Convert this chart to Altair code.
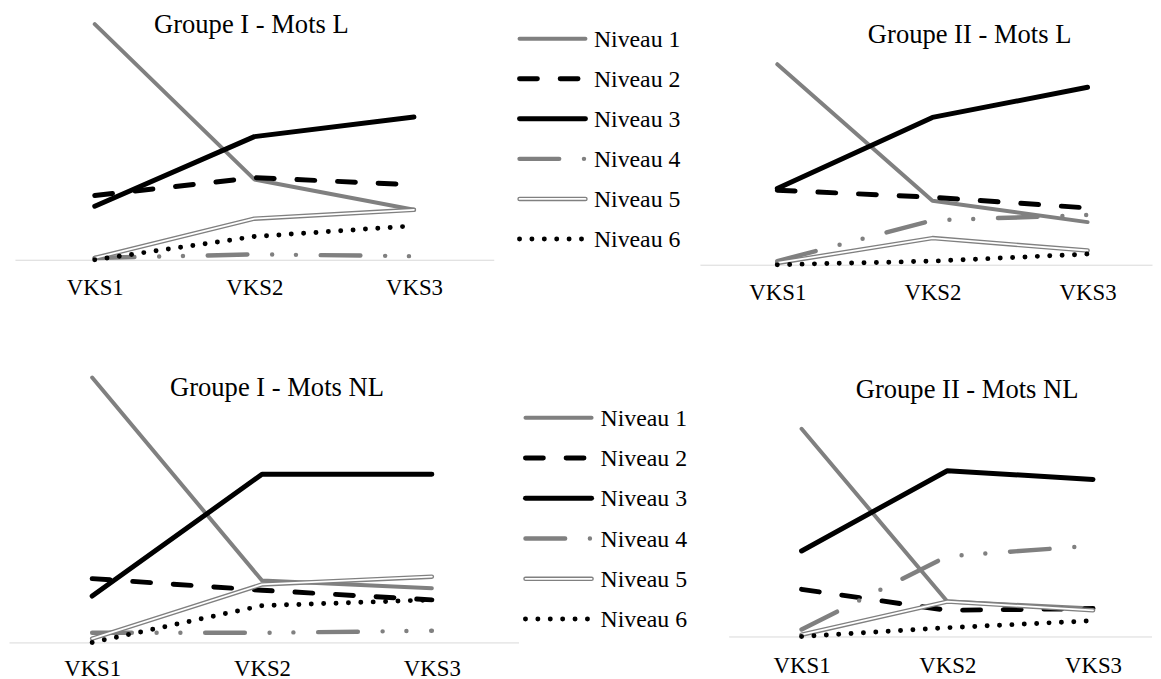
import altair as alt
import pandas as pd

VKS = ["VKS1", "VKS2", "VKS3"]
NIVEAUX = ["Niveau 1", "Niveau 2", "Niveau 3", "Niveau 4", "Niveau 5", "Niveau 6"]

# rows = Niveau 1..6, columns = VKS1..VKS3 (% of words)
G1_MOTS_L = [[66, 22.5, 14], [18, 23, 21], [15, 34.5, 40], [0.5, 1.5, 1], [0.5, 11.5, 14], [0, 6.5, 9.5]]
G2_MOTS_L = [[56.5, 18, 12], [21, 19, 16], [21.5, 41.5, 50], [1, 12.5, 14], [0.5, 7.5, 4], [0, 1, 3]]
G1_MOTS_NL = [[68.5, 16, 14], [16.5, 13.5, 11], [12, 43.5, 43.5], [2.5, 2.5, 3], [1, 15, 17], [0, 9.5, 11]]
G2_MOTS_NL = [[59.5, 10, 8], [13.5, 7.5, 8], [24.5, 47.5, 45], [2, 23, 26], [0.5, 10, 7.5], [0, 2.5, 4.5]]

TITLES = ["Groupe I - Mots L", "Groupe II - Mots L", "Groupe I - Mots NL", "Groupe II - Mots NL"]

GRAY = "#808080"
BLACK = "#000000"
FONT = "Liberation Serif"

STYLES = {
    "Niveau 1": dict(color=GRAY, strokeWidth=4),
    "Niveau 2": dict(color=BLACK, strokeWidth=5, strokeDash=[18, 23]),
    "Niveau 3": dict(color=BLACK, strokeWidth=5),
    "Niveau 4": dict(color=GRAY, strokeWidth=4.5, strokeDash=[40, 25, 0, 24, 0, 25]),
    "Niveau 5": dict(color=GRAY, strokeWidth=4.5),
    "Niveau 6": dict(color=BLACK, strokeWidth=5, strokeDash=[0, 12.5]),
}
INNER5 = dict(color="white", strokeWidth=1.8)


def long_df(values):
    rows = []
    for i, n in enumerate(NIVEAUX):
        for j, v in enumerate(VKS):
            rows.append({"vks": v, "idx": j, "niveau": n, "pct": values[i][j]})
    return pd.DataFrame(rows)


def line_layers(x, y):
    layers = []
    for n in NIVEAUX:
        base = alt.Chart().transform_filter(alt.datum.niveau == n)
        layers.append(base.mark_line(strokeCap="round", strokeJoin="round", **STYLES[n]).encode(x=x, y=y))
        if n == "Niveau 5":
            layers.append(base.mark_line(strokeCap="round", strokeJoin="round", **INNER5).encode(x=x, y=y))
    return layers


def panel(values, title, width, height, xdom, ymax, label_pad, title_x, title_y):
    x = alt.X(
        "idx:Q",
        scale=alt.Scale(domain=xdom, nice=False, zero=False),
        axis=alt.Axis(title=None, values=list(range(len(VKS))),
                      labelExpr=f"{VKS}[datum.value]", labelAngle=0, labelFlush=False,
                      ticks=False, tickSize=0, grid=False,
                      domainColor="#d9d9d9", domainWidth=1, labelFont=FONT, labelFontSize=23,
                      labelColor="black", labelPadding=label_pad, labelBaseline="alphabetic",
                      labelOverlap=False),
    )
    y = alt.Y("pct:Q", scale=alt.Scale(domain=[0, ymax], nice=False, zero=True), axis=None)
    title_layer = alt.Chart(pd.DataFrame({"t": [title]})).mark_text(
        align="center", baseline="alphabetic", font=FONT, fontSize=26.8, color="black"
    ).encode(text="t:N", x=alt.value(title_x), y=alt.value(title_y))
    return alt.layer(*line_layers(x, y), title_layer, data=long_df(values)).properties(
        width=width, height=height)


def legend_chart(width, height, pad, align, text_dx):
    df = pd.DataFrame([{"niveau": n, "pos": p} for n in NIVEAUX for p in (0, 1)])
    x = alt.X("pos:Q", scale=alt.Scale(domain=[0, 1], nice=False), axis=None)
    y = alt.Y("niveau:N", sort=NIVEAUX,
              scale=alt.Scale(type="point", domain=NIVEAUX, padding=pad, align=align), axis=None)
    text = alt.Chart().transform_filter(alt.datum.pos == 1).mark_text(
        align="left", baseline="middle", dx=text_dx, dy=1, font=FONT, fontSize=24, color="black"
    ).encode(x=x, y=y, text="niveau:N")
    return alt.layer(*line_layers(x, y), text, data=df).properties(width=width, height=height)


def spacer(w, h):
    return alt.Chart(pd.DataFrame({"s": [0]})).mark_rule(opacity=0).encode(
        y=alt.value(h / 2)).properties(width=w, height=h)


tl = panel(G1_MOTS_L, TITLES[0], 483, 250, [-0.5, 2.5], 69.44, 35, 238.5, 21.5)
tr = panel(G2_MOTS_L, TITLES[1], 456, 255, [-0.4984, 2.4153], 71.23, 35, 272, 31.5)
bl = panel(G1_MOTS_NL, TITLES[2], 514, 273, [-0.4897, 2.5103], 70, 33, 270.3, 24)
br = panel(G2_MOTS_NL, TITLES[3], 426.5, 267, [-0.5, 2.4014], 75.85, 36, 240.5, 26)

leg1 = legend_chart(66.5, 255, 0.656, 0.51, 8.5)
leg2 = legend_chart(66.7, 273, 0.862, 0.664, 9)

row1 = alt.hconcat(spacer(5.5, 255), tl, spacer(25.5, 255), leg1, spacer(114.5, 255), tr,
                   spacing=0, bounds="flush")
row2 = alt.hconcat(bl, spacer(6.3, 273), leg2, spacer(137.5, 273), br,
                   spacing=0, bounds="flush")

chart = alt.vconcat(row1, row2, spacing=66).properties(
    padding=0, background="white"
).configure(font=FONT).configure_view(stroke="transparent").configure_text(font=FONT).configure_axis(
    labelFont=FONT)

chart.save("out.html", embed_options={"renderer": "svg", "actions": False})
